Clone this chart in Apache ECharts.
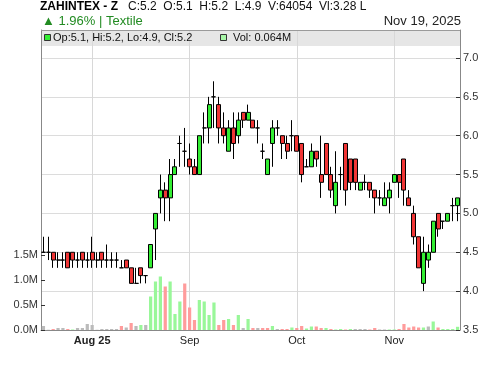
<!DOCTYPE html>
<html><head><meta charset="utf-8">
<script src="https://cdn.jsdelivr.net/npm/echarts@6/dist/echarts.min.js"></script>
<style>html,body{margin:0;padding:0;background:#fff}#c{width:500px;height:366px}</style>
</head><body><div id="c"></div>
<script>
// ---- data ----
const symbol = 'ZAHINTEX - Z';
const sector = 'Textile';
const changePct = 1.96;
const lastVolumeShares = 64054;
const valueLakh = 3.28;
const dateLabel = 'Nov 19, 2025';

const dates = [
 '2025-07-18','2025-07-21','2025-07-22','2025-07-23','2025-07-24','2025-07-25','2025-07-28','2025-07-29','2025-07-30','2025-07-31',
 '2025-08-01','2025-08-04','2025-08-05','2025-08-06','2025-08-07','2025-08-08','2025-08-11','2025-08-12','2025-08-13','2025-08-15',
 '2025-08-18','2025-08-19','2025-08-20','2025-08-21','2025-08-22','2025-08-25','2025-08-26','2025-08-27','2025-08-28','2025-08-29',
 '2025-09-01','2025-09-02','2025-09-03','2025-09-04','2025-09-05','2025-09-08','2025-09-09','2025-09-10','2025-09-11','2025-09-12',
 '2025-09-15','2025-09-16','2025-09-17','2025-09-18','2025-09-19','2025-09-22','2025-09-23','2025-09-24','2025-09-25','2025-09-26',
 '2025-09-29','2025-09-30',
 '2025-10-01','2025-10-02','2025-10-03','2025-10-06','2025-10-07','2025-10-08','2025-10-09','2025-10-10','2025-10-13','2025-10-14',
 '2025-10-15','2025-10-16','2025-10-17','2025-10-20','2025-10-21','2025-10-22','2025-10-23','2025-10-24','2025-10-27','2025-10-28',
 '2025-11-03','2025-11-04','2025-11-05','2025-11-06','2025-11-07','2025-11-10','2025-11-11','2025-11-12','2025-11-13','2025-11-14',
 '2025-11-17','2025-11-18','2025-11-19','2025-11-20'
];
const opens = [
 4.5,4.5,4.5,4.4,4.4,4.5,4.5,4.4,4.5,4.4,
 4.5,4.4,4.5,4.4,4.4,4.4,4.3,4.4,4.3,4.1,
 4.3,4.2,4.3,4.8,5.2,5.3,5.2,5.5,5.9,5.8,
 5.7,5.6,5.5,6.1,6.1,6.5,6.4,6.1,5.8,6.1,
 6.0,6.3,6.2,6.2,6.1,5.8,5.5,5.9,6.1,6.0,
 5.9,6.0,6.0,5.9,5.6,5.6,5.8,5.5,5.9,5.5,
 5.1,5.5,5.9,5.7,5.7,5.3,5.4,5.4,5.3,5.2,
 5.1,5.2,5.4,5.5,5.7,5.2,5.0,4.7,4.1,4.4,
 4.5,5.0,4.9,4.9,5.1,5.1
];
const closes = [
 4.5,4.5,4.4,4.4,4.4,4.3,4.4,4.4,4.4,4.4,
 4.4,4.4,4.4,4.4,4.4,4.4,4.3,4.3,4.1,4.1,
 4.2,4.2,4.6,5.0,5.3,5.2,5.5,5.6,5.9,5.8,
 5.6,5.5,6.0,6.1,6.4,6.5,6.1,6.0,6.1,5.9,
 6.2,6.2,6.3,6.1,6.1,5.8,5.7,6.1,6.1,5.9,
 5.8,6.0,5.8,5.5,5.6,5.8,5.7,5.4,5.5,5.3,
 5.4,5.5,5.3,5.4,5.4,5.4,5.4,5.3,5.2,5.2,
 5.2,5.3,5.5,5.4,5.3,5.1,4.7,4.3,4.5,4.5,
 4.9,4.8,4.9,5.0,5.1,5.2
];
const lows = [
 4.5,4.4,4.3,4.3,4.3,4.3,4.3,4.3,4.3,4.3,
 4.3,4.3,4.3,4.3,4.3,4.3,4.3,4.3,4.1,4.1,
 4.1,4.1,4.3,4.4,5.0,4.9,4.9,5.5,5.6,5.6,
 5.5,5.5,5.5,5.9,5.9,6.1,5.9,5.9,5.8,5.7,
 5.9,6.1,6.2,6.1,5.9,5.7,5.5,5.6,6.0,5.7,
 5.7,5.8,5.8,5.4,5.6,5.6,5.6,5.2,5.5,5.2,
 5.0,5.3,5.1,5.3,5.3,5.3,5.3,5.2,5.0,5.1,
 5.1,5.0,5.4,5.2,5.1,5.1,4.6,4.3,4.0,4.3,
 4.5,4.7,4.8,4.9,4.9,4.9
];
const highs = [
 4.7,4.7,4.5,4.5,4.5,4.5,4.5,4.5,4.5,4.5,
 4.7,4.5,4.5,4.6,4.5,4.5,4.4,4.4,4.3,4.3,
 4.3,4.2,4.6,5.0,5.5,5.4,5.7,5.7,6.0,6.1,
 5.9,5.7,6.0,6.3,6.5,6.7,6.5,6.3,6.2,6.3,
 6.3,6.3,6.4,6.2,6.2,5.9,5.7,6.2,6.2,6.0,
 6.0,6.2,6.0,5.9,5.7,5.9,5.8,6.0,5.9,5.6,
 5.8,5.6,5.9,5.7,5.7,5.4,5.5,5.4,5.3,5.3,
 5.4,5.4,5.5,5.5,5.7,5.3,5.1,4.7,4.7,4.6,
 4.9,5.0,4.9,5.0,5.2,5.2
];
// volume in millions of shares
const volumes = [
 0.08,0.005,0.02,0.04,0.04,0.02,0.01,0.04,0.04,0.12,
 0.10,0.005,0.02,0.02,0.02,0.02,0.08,0.05,0.14,0.08,
 0.10,0.10,0.67,0.97,1.07,0.87,0.97,0.32,0.57,0.93,
 0.45,0.20,0.60,0.57,0.30,0.55,0.10,0.20,0.22,0.10,
 0.30,0.04,0.22,0.04,0.04,0.04,0.04,0.08,0.02,0.02,
 0.02,0.05,0.04,0.08,0.03,0.07,0.07,0.04,0.04,0.02,
 0.01,0.02,0.01,0.02,0.02,0.02,0.02,0.01,0.04,0.01,
 0.01,0.01,0.01,0.02,0.12,0.05,0.07,0.05,0.05,0.07,
 0.17,0.05,0.02,0.02,0.02,0.064
];
const volTicks = [0, 0.5, 1.0, 1.5];
const monthTickDates = ['2025-08-01','2025-09-01','2025-10-01','2025-11-03'];
const monthTickLabels = ['Aug 25','Sep','Oct','Nov'];

// ---- chart ----
const FONT = '"Liberation Sans", Arial, sans-serif';
const N = dates.length;
const candleData = dates.map((d,i)=>[opens[i], closes[i], lows[i], highs[i]]);
const volData = volumes.map((v,i)=>{
  let c = '#bbbbbb';
  if (i>0 && closes[i]>closes[i-1]) c = '#99f799';
  else if (i>0 && closes[i]<closes[i-1]) c = '#ff9c9c';
  return {value:v, itemStyle:{color:c}};
});
const tickIdx = monthTickDates.map(d=>dates.indexOf(d));
const L = N-1;
const f1 = v=>v.toFixed(1);

const chart = echarts.init(document.getElementById('c'), null, {renderer:'canvas'});
const headerVals = 'C:'+f1(closes[L])+'  O:'+f1(opens[L])+'  H:'+f1(highs[L])+'  L:'+f1(lows[L])+'  V:'+lastVolumeShares+'  Vl:'+valueLakh.toFixed(2)+' L';
function txt(x,y,text,opt){
  opt = opt||{};
  return {type:'text', z:50, silent:true, style:{x:x, y:y, text:text, fill:opt.fill||'#111',
    font:(opt.weight||'normal')+' '+(opt.size||12)+'px '+FONT,
    align:opt.align||'left', textAlign:opt.align||'left', verticalAlign:'middle', textVerticalAlign:'middle'}};
}
const option = {
  animation:false,
  grid:{left:41, right:40, top:30, bottom:36},
  xAxis:{
    type:'category', data:dates, boundaryGap:true,
    axisLine:{show:true, lineStyle:{color:'#888', width:1}},
    axisTick:{show:false},
    splitLine:{show:false},
    axisLabel:{
      interval:(i)=>tickIdx.indexOf(i)>=0,
      formatter:(v,i)=>{ const k=tickIdx.indexOf(i); if(k<0) return ''; return k===0?'{b|'+monthTickLabels[k]+'}':monthTickLabels[k]; },
      fontSize:11, fontFamily:FONT, color:'#222', margin:5,
      rich:{b:{fontWeight:'bold', fontSize:11, fontFamily:FONT, color:'#222'}}
    }
  },
  yAxis:[
    {type:'value', position:'right', min:3.5, max:7.36, interval:0.5,
     axisLine:{show:true, lineStyle:{color:'#888'}},
     axisTick:{show:true, inside:true, length:4, lineStyle:{color:'#333'}},
     axisLabel:{fontSize:11, fontFamily:FONT, color:'#333', margin:3, showMaxLabel:false,
       formatter:v=>Math.abs(v*2-Math.round(v*2))<1e-6 && v<=7.01 ? v.toFixed(1) : ''},
     splitLine:{show:true, lineStyle:{color:'#dcdcdc', width:1}}},
    {type:'value', position:'left', min:0, max:6,
     axisLine:{show:true, lineStyle:{color:'#888'}},
     axisTick:{show:true, inside:true, length:4, customValues:volTicks, lineStyle:{color:'#333'}},
     axisLabel:{fontSize:11, fontFamily:FONT, color:'#333', margin:3, customValues:volTicks,
       formatter:v=>v.toFixed(1)+'M'},
     splitLine:{show:false}}
  ],
  series:[
    {type:'bar', name:'Vol', xAxisIndex:0, yAxisIndex:1, data:volData, barWidth:'66%', z:1, silent:true,
     markLine:{silent:true, symbol:'none', z:0, animation:false, label:{show:false},
       lineStyle:{color:'#d8d8d8', width:1, type:'solid'}, emphasis:{disabled:true},
       data:tickIdx.map(i=>({xAxis:dates[i]}))}},
    {type:'candlestick', name:'OHLC', xAxisIndex:0, yAxisIndex:0, data:candleData, barWidth:4.5, z:3, silent:true,
     itemStyle:{color:'#33ee33', color0:'#f03535', borderColor:'#000', borderColor0:'#000', borderColorDoji:'#000', borderWidth:1}}
  ],
  graphic:[
    {type:'rect', z:-5, silent:true, shape:{x:41, y:31, width:419, height:15}, style:{fill:'#e6e6e6'}},
    {type:'line', z:40, silent:true, shape:{x1:41, y1:30.5, x2:460, y2:30.5}, style:{stroke:'#9a9a9a', lineWidth:1}},
    txt(40, 6.5, symbol, {weight:'bold', size:12, fill:'#000'}),
    txt(128, 6.5, headerVals, {size:12, fill:'#111'}),
    txt(42, 21.5, '\u25B2 '+changePct.toFixed(2)+'% | '+sector, {size:13, fill:'#228b22'}),
    txt(461, 21.5, dateLabel, {size:13, fill:'#222', align:'right'}),
    {type:'rect', z:45, silent:true, shape:{x:44.5, y:34.5, width:6, height:6}, style:{fill:'#33ee33', stroke:'#333', lineWidth:1}},
    txt(53, 38, 'Op:'+f1(opens[L])+', Hi:'+f1(highs[L])+', Lo:'+f1(lows[L])+', Cl:'+f1(closes[L]), {size:11, fill:'#111'}),
    {type:'rect', z:45, silent:true, shape:{x:220.5, y:34.5, width:6, height:6}, style:{fill:'#a6f5a6', stroke:'#333', lineWidth:1}},
    txt(233, 38, 'Vol: '+volumes[L].toFixed(3)+'M', {size:11, fill:'#111'})
  ]
};
chart.setOption(option);
</script>
</body></html>
